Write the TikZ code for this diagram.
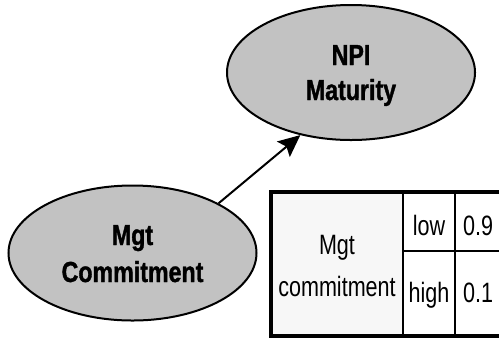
\documentclass[tikz,border=0pt]{standalone}
\usepackage{fontspec}
\setmainfont{Liberation Sans}
\newfontfamily\narrowfont[FakeStretch=0.77]{Liberation Sans}
\newfontfamily\narrowbold[FakeStretch=0.8,FakeBold=1.2]{Liberation Sans Bold}
\usetikzlibrary{arrows.meta,shapes.geometric}
\definecolor{nodegrey}{HTML}{C2C2C2}
\definecolor{cellgrey}{HTML}{F7F7F7}
\tikzset{
  varnode/.style={ellipse, draw=black, line width=2bp, fill=nodegrey,
    minimum width=248bp, minimum height=135bp, inner sep=0pt},
  varlabel/.style={anchor=base, inner sep=0pt,
    font=\narrowbold\fontsize{29bp}{35bp}\selectfont},
  cell/.style={anchor=base, inner sep=0pt,
    font=\narrowfont\fontsize{28bp}{34bp}\selectfont},
  link/.style={line width=2bp, -{Stealth[length=22bp,width=20bp,inset=4bp]}},
  outer/.style={line width=3.5bp},
  inner/.style={line width=2bp}
}
\begin{document}
\begin{tikzpicture}[x=1bp,y=-1bp]
  \clip (0,0) rectangle (499,340);
  \fill[white] (0,0) rectangle (499,340);

  % variables
  \node[varnode] (npi) at (351,72.5) {};
  \node[varlabel] (npi1) at (351,65) {NPI};
  \node[varlabel] (npi2) at (351,100) {Maturity};
  \node[varnode] (mgt) at (132.5,253) {};
  \node[varlabel] (mgt1) at (132.5,245) {Mgt};
  \node[varlabel] (mgt2) at (132.5,282) {Commitment};
  \draw[link] (mgt.30) -- (npi.231);

  % probability table
  \fill[cellgrey] (271,192) rectangle (403,336);
  \draw[inner] (403,192) -- (403,336);
  \draw[inner] (455,192) -- (455,336);
  \draw[inner] (403,251) -- (510,251);
  \draw[outer] (510,192) -- (271,192) -- (271,336) -- (510,336);
  \node[cell] (var1) at (337,254) {Mgt};
  \node[cell] (var2) at (337,296) {commitment};
  \node[cell] (low) at (429,235) {low};
  \node[cell] (high) at (429,302) {high};
  \node[cell] (plow) at (478,235) {0.9};
  \node[cell] (phigh) at (478,302) {0.1};
\end{tikzpicture}
\end{document}
